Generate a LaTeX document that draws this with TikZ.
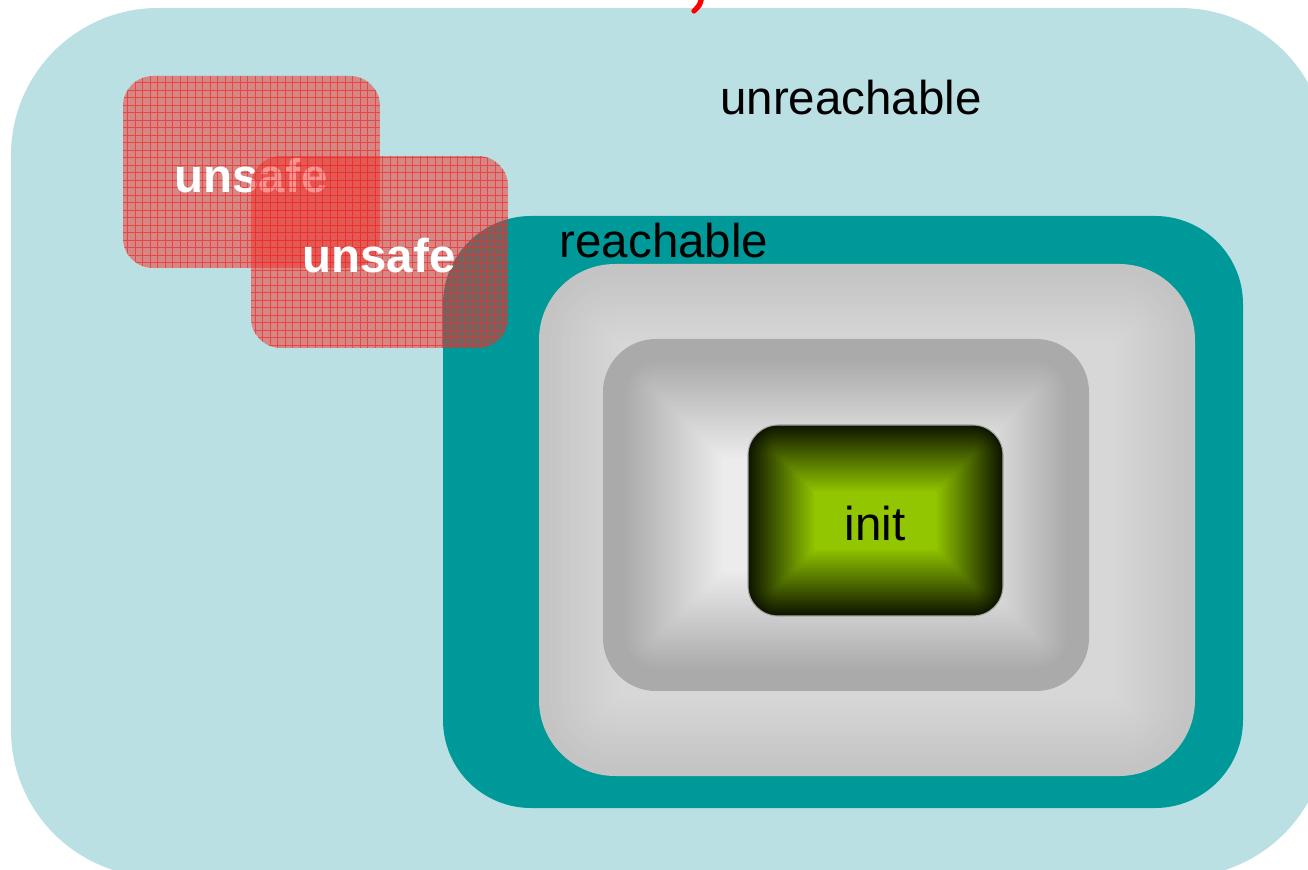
\documentclass[tikz,border=0pt]{standalone}
\usepackage{fontspec}
\setmainfont{Liberation Sans}

\definecolor{skyfill}{RGB}{187,224,227}
\definecolor{tealfill}{RGB}{0,153,153}
\definecolor{paleedge}{RGB}{196,196,196}
\definecolor{palecore}{RGB}{215,215,215}
\definecolor{greyedge}{RGB}{170,170,170}
\definecolor{greycore}{RGB}{236,236,236}
\definecolor{initedge}{RGB}{14,22,0}
\definecolor{initcore}{RGB}{146,198,0}
\definecolor{badred}{RGB}{240,45,40}

% rounded box shaded from its rim inwards
% #1,#2 top left, #3,#4 bottom right, #5 radius, #6 rim colour, #7 core colour,
% #8 depth (even), #9 inset where the ramp starts
\newcommand{\rimshade}[9]{%
  \foreach \d in {0,2,...,#8}{%
    \pgfmathtruncatemacro{\pct}{100*max(\d-#9,0)/(#8-#9)}%
    \pgfmathsetmacro{\rr}{max(#5-\d,2)*0.01}%
    \fill[#7!\pct!#6, rounded corners=\rr cm] (#1+\d,#2+\d) rectangle (#3-\d,#4-\d);
  }%
}

\tikzset{
  lbl/.style={font=\fontsize{13.5}{16}\selectfont, inner sep=0pt},
  unsafelbl/.style={lbl, font=\fontsize{13.5}{16}\selectfont\bfseries, text=white},
  unsafebox/.style={fill=badred, fill opacity=0.5},
  unsafegrid/.style={draw=badred, line width=0.25pt, opacity=0.7, step=0.075cm}
}

\begin{document}
\begin{tikzpicture}[x=0.01cm, y=-0.01cm]
  \useasboundingbox (0,0) rectangle (1308,870);
  \clip (0,0) rectangle (1308,870);

  % whole state space
  \fill[skyfill, rounded corners=1.47cm] (11,8) rectangle (1327,877);
  % red stroke coming in from above
  \draw[red, line width=1.5pt, line cap=round] (702,-4) .. controls (700,5) .. (694,11);

  % reachable region
  \fill[tealfill, rounded corners=0.88cm] (443,216) rectangle (1243,808);
  \rimshade{539}{264}{1195}{776}{76}{paleedge}{palecore}{80}{6}
  \rimshade{603}{339}{1089}{691}{53}{greyedge}{greycore}{120}{20}

  % initial states
  \rimshade{748}{425}{1003}{616}{30}{initedge}{initcore}{66}{0}
  \draw[gray!70, line width=0.3pt, rounded corners=0.3cm] (748,425) rectangle (1003,616);

  \node[lbl] (unreach) at (851,98) {unreachable};
  \node[lbl] (reach) at (664,241) {reachable};
  \node[lbl] (initlbl) at (875,523) {init};

  % bad states, hatched with a fine grid
  \begin{scope}
    \clip[rounded corners=0.3cm] (123,76) rectangle (380,268);
    \fill[unsafebox] (123,76) rectangle (380,268);
    \draw[unsafegrid] (120,70) grid (380,270);
  \end{scope}
  \node[unsafelbl] (unsafeA) at (251,176) {unsafe};

  \begin{scope}
    \clip[rounded corners=0.3cm] (251,156) rectangle (508,348);
    \fill[unsafebox] (251,156) rectangle (508,348);
    \draw[unsafegrid] (250,150) grid (510,350);
  \end{scope}
  \node[unsafelbl] (unsafeB) at (379,256) {unsafe};
\end{tikzpicture}
\end{document}
